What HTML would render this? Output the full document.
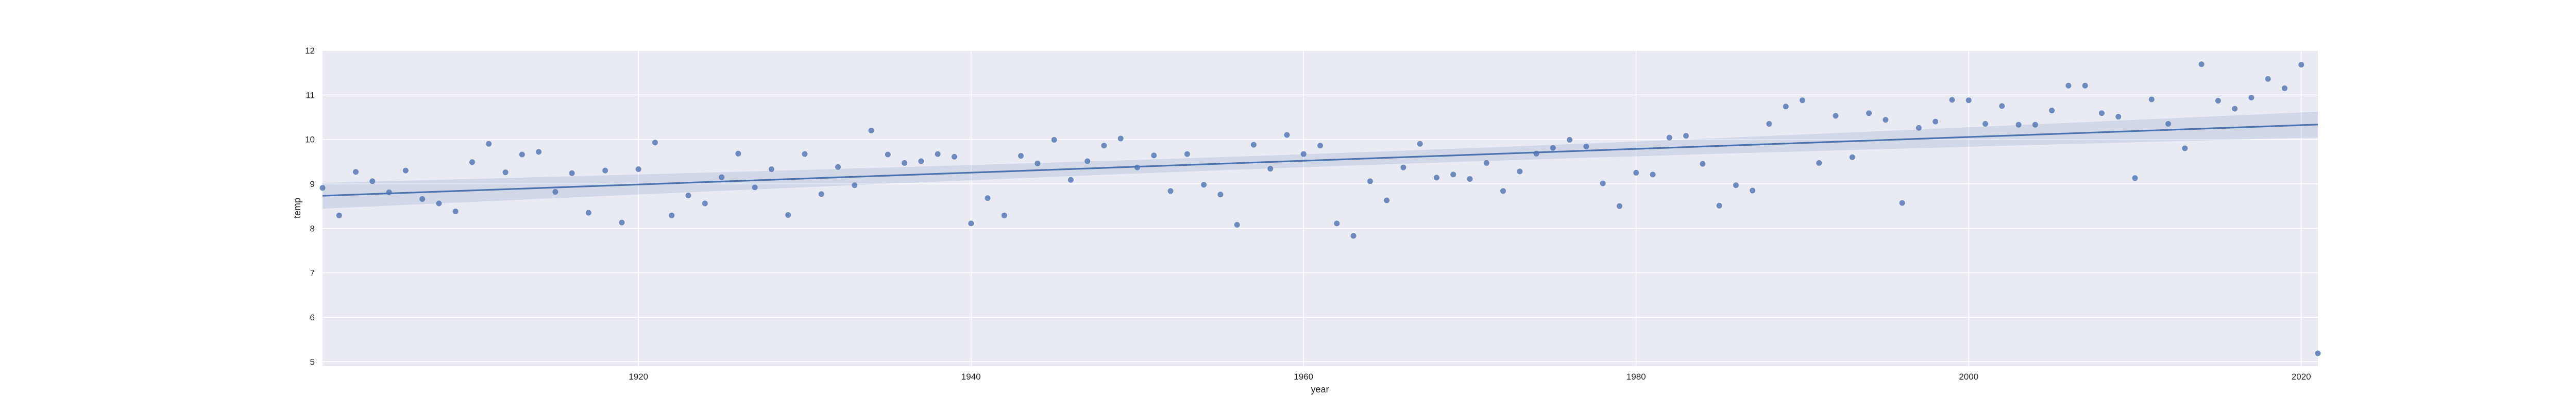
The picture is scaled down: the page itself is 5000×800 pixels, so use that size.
<!DOCTYPE html>
<html><head><meta charset="utf-8"><style>
html,body{margin:0;padding:0;background:#fff;}
svg{display:block;font-family:"Liberation Sans",sans-serif;}
</style></head><body>
<svg id="chart" width="5000" height="800" viewBox="0 0 5000 800"></svg>
<script>
const years = [];
for (let y = 1901; y <= 2021; y++) years.push(y);
const temps = [8.91,8.29,9.27,9.06,8.81,9.30,8.66,8.56,8.38,9.49,
9.90,9.26,9.66,9.72,8.82,9.24,8.35,9.30,8.13,9.33,
9.93,8.29,8.74,8.56,9.15,9.68,8.92,9.33,8.30,9.67,
8.77,9.38,8.97,10.20,9.66,9.47,9.51,9.67,9.61,8.11,
8.68,8.29,9.63,9.46,9.99,9.09,9.51,9.86,10.02,9.37,
9.64,8.84,9.67,8.98,8.76,8.08,9.88,9.34,10.10,9.67,
9.86,8.11,7.83,9.06,8.63,9.37,9.90,9.14,9.21,9.11,
9.47,8.84,9.28,9.68,9.81,9.99,9.84,9.01,8.50,9.25,
9.21,10.04,10.08,9.45,8.51,8.97,8.85,10.35,10.74,10.88,
9.47,10.53,9.60,10.59,10.44,8.57,10.26,10.40,10.89,10.88,
10.35,10.75,10.33,10.33,10.65,11.21,11.21,10.59,10.51,9.13,
10.90,10.35,9.80,11.69,10.87,10.69,10.94,11.36,11.15,11.68,5.19];
const xTicks = [1920,1940,1960,1980,2000,2020];
const yTicks = [5,6,7,8,9,10,11,12];

const L=626,R=4499,T=98,B=711;
const xMin=1901,xMax=2021,yMin=4.9,yMax=12.0;
const sx=v=>L+(v-xMin)/(xMax-xMin)*(R-L);
const sy=v=>B-(v-yMin)/(yMax-yMin)*(B-T);
const NS="http://www.w3.org/2000/svg";
const svg=document.getElementById('chart');
function mk(tag,attrs,parent){const e=document.createElementNS(NS,tag);for(const k in attrs)e.setAttribute(k,attrs[k]);(parent||svg).appendChild(e);return e;}

const bg=mk('rect',{x:L,y:T,width:R-L,height:B-T,fill:'#eaeaf2'});



yTicks.forEach(t=>{
  const g=mk('line',{x1:L,x2:R,y1:sy(t),y2:sy(t),stroke:'#fff','stroke-width':1.6});
  
  
  const tx=mk('text',{x:611,y:sy(t)+6,'text-anchor':'end','font-size':17,fill:'#262626'});
  tx.textContent=t;
  
  
});
xTicks.forEach(t=>{
  const g=mk('line',{x1:sx(t),x2:sx(t),y1:T,y2:B,stroke:'#fff','stroke-width':1.6});
  
  
  const tx=mk('text',{x:sx(t),y:737,'text-anchor':'middle','font-size':17,fill:'#262626'});
  tx.textContent=t;
  
  
});

// regression + CI
const n=years.length;
const mx=years.reduce((a,b)=>a+b,0)/n, my=temps.reduce((a,b)=>a+b,0)/n;
let sxx=0,sxy=0;for(let i=0;i<n;i++){sxx+=(years[i]-mx)**2;sxy+=(years[i]-mx)*(temps[i]-my);}
const slope=sxy/sxx, icpt=my-slope*mx;
let sse=0;for(let i=0;i<n;i++){sse+=(temps[i]-(icpt+slope*years[i]))**2;}
const s=Math.sqrt(sse/(n-2));
const band=x=>1.98*s*Math.sqrt(1/n+(x-mx)**2/sxx);
let up=[],lo=[];
for(let x=xMin;x<=xMax;x+=1){const f=icpt+slope*x,b=band(x);up.push(sx(x)+','+sy(f+b));lo.unshift(sx(x)+','+sy(f-b));}
const ci=mk('polygon',{points:up.concat(lo).join(' '),fill:'#4c72b0','fill-opacity':0.15});



years.forEach((yr,i)=>{
  const c=mk('circle',{cx:sx(yr),cy:sy(temps[i]),r:5.5,fill:'#4c72b0','fill-opacity':0.8});
  
  
});
const ln=mk('line',{x1:sx(xMin),y1:sy(icpt+slope*xMin),x2:sx(xMax),y2:sy(icpt+slope*xMax),stroke:'#4c72b0','stroke-width':3.2});



const xl=mk('text',{x:2562,y:762,'text-anchor':'middle','font-size':18,fill:'#262626'});
xl.textContent='year';


const yl=mk('text',{x:583,y:404,'text-anchor':'middle','font-size':18,fill:'#262626',transform:'rotate(-90 583 404)'});
yl.textContent='temp';


</script>
</body></html>
